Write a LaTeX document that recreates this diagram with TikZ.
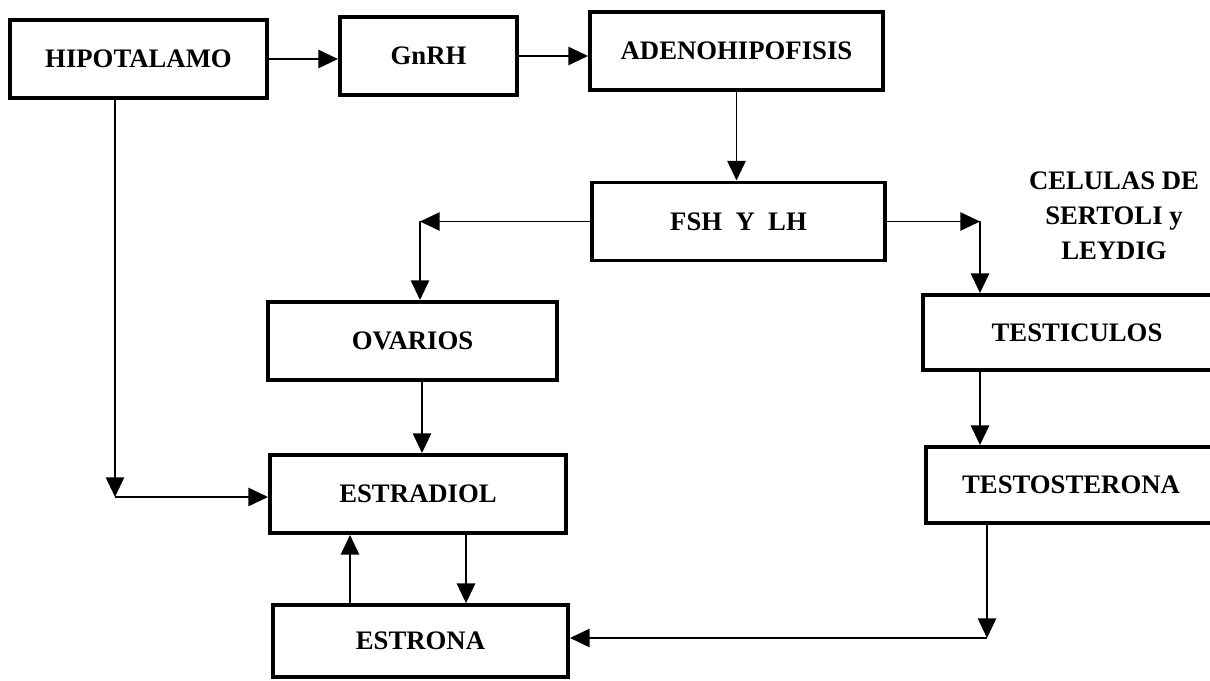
\documentclass[tikz,border=0pt]{standalone}
\usepackage{fontspec}
\setmainfont{Liberation Serif}
\usetikzlibrary{arrows.meta,calc}
\tikzset{
  caja/.style={draw,line width=2.8pt,minimum height=55.5pt,inner sep=0pt,
    font=\bfseries\fontsize{19}{23}\selectfont},
}

\begin{document}
\begin{tikzpicture}[x=0.025cm,y=-0.025cm]
            \useasboundingbox (0,0) rectangle (1210,681);
            \node[caja,minimum width=182.8pt] (hipo) at (138.5,59) {HIPOTALAMO};
            \node[caja,minimum width=125.9pt] (gnrh) at (428.5,56) {GnRH};
            \node[caja,minimum width=208.4pt] (adeno) at (736.5,51) {ADENOHIPOFISIS};
            \node[caja,minimum width=208.4pt] (fsh) at (738.5,221.5) {FSH~ Y~ LH};
            \node[caja,minimum width=205.6pt] (ovarios) at (412.5,341) {OVARIOS};
            \node[caja,minimum width=210.5pt] (estradiol) at (418,494) {ESTRADIOL};
            \node[caja,minimum width=209.8pt,minimum height=51pt] (estrona) at (420.5,641) {ESTRONA};
            \node[caja,minimum width=219.1pt,minimum height=53.3pt] (testic) at (1077,332.5) {TESTICULOS};
            \node[caja,minimum width=206.3pt,minimum height=54pt] (testo) at (1071,485) {TESTOSTERONA};
            \node[align=center,font=\bfseries\fontsize{19}{25}\selectfont] (celulas) at (1114,216)
                {CELULAS DE\\SERTOLI y\\LEYDIG};
            \coordinate (izq) at (420,221.5);
            \coordinate (der) at (980,221.5);
            \coordinate (ov) at (422,0);
            \coordinate (hb) at (115,497);
            \coordinate (sube) at (350,0);
            \coordinate (baja) at (466,0);
            \coordinate (tb) at (987,638);
            \begin{scope}[-{Triangle[length=14pt,width=13pt]},line width=1.4pt]
                \draw (hipo.east) -- (hipo.east -| gnrh.west);
                \draw (gnrh.east) -- (gnrh.east -| adeno.west);
                \draw (adeno.south) -- (adeno.south |- fsh.north);
                \draw (fsh.west) -- (izq);
                \draw (izq) -- (izq |- ovarios.north);
                \draw (fsh.east) -- (der);
                \draw (der) -- (der |- testic.north);
                \draw (ov |- ovarios.south) -- (ov |- estradiol.north);
                \draw (hipo.south -| hb) -- (hb);
                \draw (hb) -- (hb -| estradiol.west);
                \draw (sube |- estrona.north) -- (sube |- estradiol.south);
                \draw (baja |- estradiol.south) -- (baja |- estrona.north);
                \draw (testic.south -| der) -- (der |- testo.north);
                \draw (tb |- testo.south) -- (tb);
                \draw (tb) -- (tb -| estrona.east);
            \end{scope}
        \end{tikzpicture}
\end{document}
